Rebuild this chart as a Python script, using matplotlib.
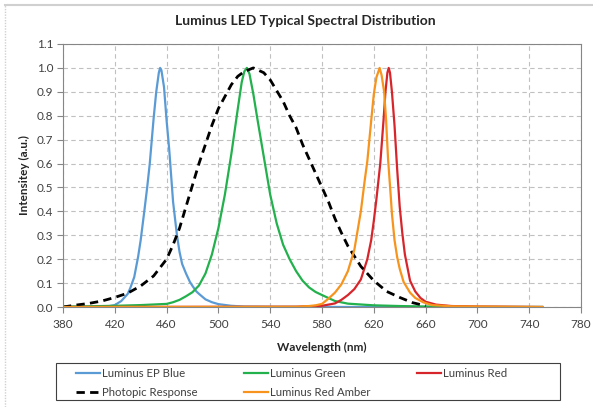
import matplotlib
matplotlib.use("Agg")
import matplotlib.pyplot as plt
from matplotlib.lines import Line2D
from matplotlib.patches import Rectangle

plt.rcParams['font.family'] = ['Lato', 'DejaVu Sans']

# Spectral data (wavelength in nm, relative intensity)
blue_nm = [380, 400, 415, 420, 425, 430, 432, 435, 438, 440, 443, 445, 447, 450, 452, 454, 455, 456, 458, 460, 462,
           465, 468, 470, 472, 475, 478, 480, 483, 485, 490, 495, 500, 510, 520, 540, 600, 700, 750]
blue = [0.0, 0.0, 0.003, 0.008, 0.025, 0.055, 0.08, 0.125, 0.21, 0.28, 0.41, 0.5, 0.6, 0.79, 0.9, 0.98, 1.0, 0.99, 0.92, 0.78, 0.66,
        0.44, 0.3, 0.23, 0.18, 0.14, 0.105, 0.088, 0.065, 0.055, 0.032, 0.02, 0.012, 0.005, 0.002, 0.001, 0.0, 0.0, 0.0]

green_nm = [380, 400, 420, 440, 460, 465, 470, 475, 480, 485, 490, 495, 500, 505, 510, 515, 518, 520, 522, 524,
            527, 530, 535, 540, 545, 550, 555, 560, 565, 570, 575, 580, 590, 600, 620, 640, 660, 680, 700, 750]
green = [0.002, 0.003, 0.005, 0.008, 0.013, 0.02, 0.03, 0.045, 0.062, 0.09, 0.14, 0.22, 0.33, 0.47, 0.64, 0.83, 0.94, 0.985, 1.0, 0.975,
         0.89, 0.79, 0.63, 0.47, 0.35, 0.26, 0.2, 0.15, 0.11, 0.082, 0.063, 0.05, 0.025, 0.014, 0.007, 0.004, 0.002, 0.001, 0.0, 0.0]

red_nm = [380, 560, 580, 590, 595, 600, 605, 610, 615, 618, 620, 622, 625, 627.5, 629, 630.5, 631.5, 632.5, 634, 636,
          638, 640, 642, 644, 648, 652, 656, 660, 668, 680, 700, 750]
red = [0.0, 0.001, 0.005, 0.015, 0.03, 0.05, 0.075, 0.115, 0.2, 0.28, 0.36, 0.45, 0.6, 0.78, 0.9, 0.98, 1.0, 0.98, 0.9, 0.76,
       0.58, 0.42, 0.31, 0.22, 0.11, 0.065, 0.038, 0.022, 0.01, 0.004, 0.002, 0.0]

photopic_nm = [380, 390, 400, 410, 420, 430, 440, 450, 460, 465, 470, 475, 480, 485, 490, 495, 500, 505, 510, 515, 520, 527,
               535, 540, 545, 550, 555, 560, 565, 570, 575, 580, 585, 590, 595, 600, 610, 620, 630, 640, 650, 660]
photopic = [0.0, 0.008, 0.015, 0.025, 0.04, 0.058, 0.088, 0.13, 0.2, 0.26, 0.33, 0.42, 0.51, 0.6, 0.68, 0.76, 0.83, 0.88, 0.93, 0.965, 0.985, 1.0,
            0.98, 0.95, 0.905, 0.86, 0.8, 0.75, 0.68, 0.62, 0.56, 0.5, 0.44, 0.37, 0.31, 0.255, 0.17, 0.11, 0.065, 0.04, 0.018, 0.005]

amber_nm = [380, 560, 570, 575, 580, 585, 590, 595, 600, 605, 610, 613, 615, 618, 620, 622, 624.5, 626, 628, 629.5,
            631, 633, 634, 636, 638, 640, 643, 648, 652, 658, 665, 680, 700, 750]
amber = [0.0, 0.001, 0.004, 0.007, 0.013, 0.035, 0.06, 0.095, 0.15, 0.24, 0.4, 0.53, 0.61, 0.78, 0.89, 0.96, 1.0, 0.97, 0.9, 0.78,
         0.62, 0.47, 0.39, 0.28, 0.21, 0.16, 0.105, 0.06, 0.038, 0.02, 0.008, 0.003, 0.002, 0.0]

x_ticks = list(range(380, 781, 40))
y_ticks = [i / 10 for i in range(12)]

fig = plt.figure(figsize=(5.93, 4.07), dpi=100)
ax = fig.add_axes([63 / 593, 1 - 307 / 407, 518 / 593, 263 / 407])

# chart area border (only top and left visible in the crop)
fig.add_artist(Line2D([5 / 593, 1], [1 - 5 / 407, 1 - 5 / 407], color='#d0d0d0', lw=1.5))
fig.add_artist(Line2D([5 / 593, 5 / 593], [0, 1 - 5 / 407], color='#d0d0d0', lw=1, ls=(0, (1, 1))))

l_blue, = ax.plot(blue_nm, blue, color='#5b9bd5', lw=1.6, label='Luminus EP Blue')
l_green, = ax.plot(green_nm, green, color='#22b14c', lw=1.6, label='Luminus Green')
l_red, = ax.plot(red_nm, red, color='#d7262b', lw=1.6, label='Luminus Red')
l_phot, = ax.plot(photopic_nm, photopic, color='black', lw=2, ls=(0, (3, 1.9)), label='Photopic Response')
l_amber, = ax.plot(amber_nm, amber, color='#f7941d', lw=1.6, label='Luminus Red Amber')

ax.set_xlim(380, 780)
ax.set_ylim(0, 1.1)
ax.set_xticks(x_ticks)
ax.set_yticks(y_ticks)
ax.set_yticklabels([f'{v:.1f}' for v in y_ticks])
ax.grid(True, color='#c0c0c0', ls=(0, (4, 3)), lw=0.8)
ax.set_axisbelow(True)
for s in ax.spines.values():
    s.set_color('#868686')
ax.tick_params(direction='out', length=4, color='#868686', labelsize=8.5, labelcolor='#404040', pad=3)
ax.tick_params(axis='x', pad=5)

fig.text(305 / 593, 1 - 21 / 407, 'Luminus LED Typical Spectral Distribution', fontsize=10,
         fontweight='bold', color='#262626', ha='center', va='center')
ax.set_xlabel('Wavelength (nm)', fontsize=8.5, fontweight='bold', color='#262626', labelpad=8)
ax.set_ylabel('Intensitey (a.u.)', fontsize=8.5, fontweight='bold', color='#262626', labelpad=5)

# legend frame drawn separately, entries laid out row by row
fig.add_artist(Rectangle((56 / 593, 1 - 400 / 407), 504 / 593, 37 / 407, transform=fig.transFigure,
                         facecolor='white', edgecolor='#404040', lw=0.8))
handles = [l_blue, l_phot, l_green, l_amber, l_red]
leg = fig.legend(handles=handles, labels=[h.get_label() for h in handles], ncol=3,
                 loc='upper left', bbox_to_anchor=(76 / 593, 1 - 368 / 407),
                 borderaxespad=0, borderpad=0, fontsize=8.2, frameon=False,
                 handlelength=2.1, handletextpad=0.17, labelspacing=0.7, columnspacing=4.1)
for t in leg.get_texts():
    t.set_color('#404040')

fig.savefig('out.png', dpi=100)
